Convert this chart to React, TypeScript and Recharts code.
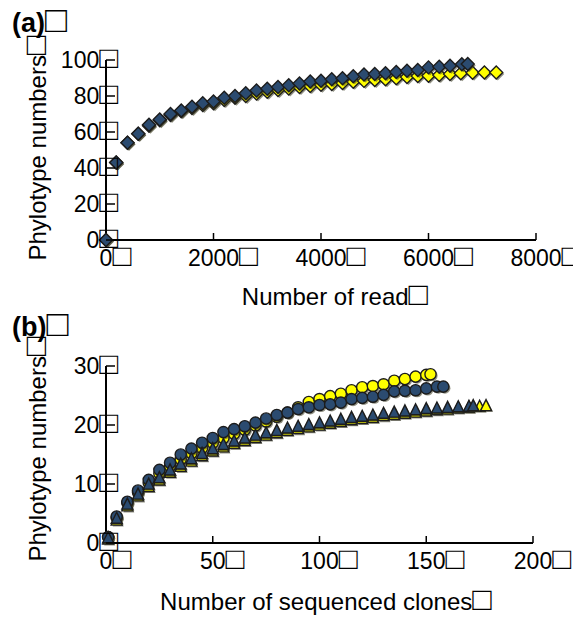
import React from 'react';
import { ScatterChart, Scatter, XAxis, YAxis } from 'recharts';

const BOX = '\u25A1';
const FS = 23;
const TITLE_FS = 24;
const FONT = '"Liberation Sans", Arial, sans-serif';
const BLUE = '#2B4B70';
const YELLOW = '#FFFF00';

// panel (a) - rarefaction by reads
const readsYellow = [0, 190, 400, 600, 800, 1000, 1200, 1400, 1600, 1800, 2000, 2200, 2400, 2600, 2800, 3000, 3200, 3400, 3600, 3800, 4000, 4200, 4400, 4600, 4800, 5000, 5200, 5400, 5600, 5800, 6000, 6200, 6400, 6600, 6820, 7040, 7260];
const phyloYellow = [0, 43, 54, 59, 63.5, 66.5, 69.5, 71.5, 73.3, 75, 76, 77.8, 79, 80, 81.4, 82.4, 83.3, 84.2, 85, 85.6, 86.2, 86.7, 87.2, 87.9, 88.4, 88.9, 89.3, 89.8, 90.6, 91.1, 91.3, 91.7, 92.2, 92.6, 92.9, 93, 93.1];
const readsBlue = [0, 190, 400, 600, 800, 1000, 1200, 1400, 1600, 1800, 2000, 2200, 2400, 2600, 2800, 3000, 3200, 3400, 3600, 3800, 4000, 4200, 4400, 4600, 4800, 5000, 5200, 5400, 5600, 5800, 6000, 6200, 6400, 6620, 6730];
const phyloBlue = [0, 43, 54, 59, 64, 67, 70, 72, 74, 76, 77, 79, 80, 81.5, 83, 84, 85, 86, 87, 88, 88.5, 89.3, 89.8, 91, 92, 92.2, 92.6, 93.3, 94, 94.4, 95.9, 96.3, 96.8, 97.6, 97.8];
const aTicksX = [0, 2000, 4000, 6000, 8000];
const aTicksY = [0, 20, 40, 60, 80, 100];

// panel (b) - rarefaction by clones
const clonesCircYellow = [1, 5, 10, 15, 20, 25, 30, 35, 40, 45, 50, 55, 60, 65, 70, 75, 80, 85, 90, 95, 100, 105, 110, 115, 120, 125, 130, 135, 140, 145, 150, 152];
const richCircYellow = [1, 4.3, 6.8, 8.6, 10.2, 11.8, 13, 14.2, 15.2, 16.1, 17, 17.8, 18.5, 19.2, 19.9, 20.6, 21.4, 22.1, 23, 23.9, 24.4, 24.9, 25.3, 25.9, 26.4, 26.6, 26.9, 27.5, 27.8, 28.2, 28.5, 28.6];
const clonesCircBlue = [1, 5, 10, 15, 20, 25, 30, 35, 40, 45, 50, 55, 60, 65, 70, 75, 80, 85, 90, 95, 100, 105, 110, 115, 120, 125, 130, 135, 140, 145, 150, 155, 158];
const richCircBlue = [1, 4.5, 7, 8.9, 10.7, 12.4, 13.6, 15, 16, 17, 17.8, 18.8, 19.3, 19.8, 20.4, 21.1, 21.7, 22.1, 22.7, 23, 23.4, 23.5, 23.8, 24.4, 24.6, 24.8, 25.1, 25.7, 25.8, 25.9, 26.2, 26.5, 26.5];
const clonesTriYellow = [1, 5, 10, 15, 20, 25, 30, 35, 40, 45, 50, 55, 60, 65, 70, 75, 80, 85, 90, 95, 100, 105, 110, 115, 120, 125, 130, 135, 140, 145, 150, 155, 160, 165, 170, 175, 178];
const richTriYellow = [0.6, 3.8, 6.2, 7.9, 9.5, 10.6, 11.9, 12.9, 13.8, 14.7, 15.5, 16.2, 16.8, 17.3, 17.8, 18.2, 18.6, 19, 19.3, 19.6, 19.9, 20.2, 20.5, 20.8, 21, 21.2, 21.5, 21.7, 21.9, 22.1, 22.3, 22.5, 22.6, 22.8, 22.9, 23.1, 23.2];
const clonesTriBlue = [1, 5, 10, 15, 20, 25, 30, 35, 40, 45, 50, 55, 60, 65, 70, 75, 80, 85, 90, 95, 100, 105, 110, 115, 120, 125, 130, 135, 140, 145, 150, 155, 160, 165, 170, 172];
const richTriBlue = [0.8, 4.1, 6.5, 8.2, 9.9, 11, 12.3, 13.3, 14.2, 15.1, 15.9, 16.6, 17.2, 17.7, 18.2, 18.6, 19, 19.4, 19.7, 20, 20.3, 20.6, 20.9, 21.2, 21.4, 21.6, 21.9, 22.1, 22.3, 22.5, 22.7, 22.8, 22.9, 23, 23.1, 23.2];
const bTicksX = [0, 50, 100, 150, 200];
const bTicksY = [0, 10, 20, 30];

const pts = (xs: number[], ys: number[]) => xs.map((x, i) => ({ x, y: ys[i] }));

// the missing-glyph box, drawn a bit bigger than the font's own square
const Box = ({ bold }: { bold?: boolean }) => (
  <tspan fontSize="1.35em" fontWeight={bold ? 'bold' : 'normal'}>{BOX}</tspan>
);

// marker shapes with a small dark drop shadow
function marker(kind: 'diamond' | 'circle' | 'triangle', fill: string) {
  return (props: any) => {
    const { cx, cy } = props;
    if (cx == null || cy == null) return null;
    let el: (extra: any) => React.ReactElement;
    if (kind === 'circle') {
      el = (extra) => <circle cx={cx} cy={cy} r={5.6} {...extra} />;
    } else {
      let d: string;
      if (kind === 'diamond') {
        const r = 6.5;
        d = `M${cx},${cy - r}L${cx + r},${cy}L${cx},${cy + r}L${cx - r},${cy}Z`;
      } else {
        d = `M${cx},${cy - 6.5}L${cx + 5.5},${cy + 4.5}L${cx - 5.5},${cy + 4.5}Z`;
      }
      el = (extra) => <path d={d} {...extra} />;
    }
    return (
      <g>
        {el({ fill: '#3a3a20', opacity: 0.55, transform: 'translate(1.5,1.5)' })}
        {el({ fill, stroke: '#1c1c1c', strokeWidth: 1.4 })}
      </g>
    );
  };
}

function XTick({ x, y, payload }: any) {
  const s = String(payload.value);
  const half = (s.length * 0.556 * FS) / 2;
  return (
    <g>
      {payload.value !== 0 && <line x1={x} y1={y} x2={x} y2={y - 7} stroke="#000" strokeWidth={1.5} />}
      <text x={x - half} y={y + 26} fontSize={FS} fontFamily={FONT} fill="#000">
        {s}
        <Box />
      </text>
    </g>
  );
}

function YTick({ x, y, payload }: any) {
  return (
    <g>
      <line x1={x} y1={y} x2={x + 9} y2={y} stroke="#000" strokeWidth={1.5} />
      <text x={x + 12} y={y} dy="0.36em" textAnchor="end" fontSize={FS} fontFamily={FONT} fill="#000">
        {payload.value}
        <Box />
      </text>
    </g>
  );
}

const axisCommon = {
  type: 'number' as const,
  tickSize: 0,
  tickMargin: 0,
  tickLine: false,
  interval: 0 as const,
  axisLine: { stroke: '#000', strokeWidth: 2 },
};

export default function App() {
  return (
    <div style={{ position: 'absolute', left: 0, top: 0, width: 573, height: 617, background: '#fff', fontFamily: FONT }}>
      <div style={{ position: 'absolute', left: 0, top: 0 }}>
        <ScatterChart width={573} height={310} margin={{ top: 60, right: 37, bottom: 69, left: 105 }}>
          <XAxis {...axisCommon} dataKey="x" domain={[0, 8000]} ticks={aTicksX} height={1} tick={<XTick />} />
          <YAxis {...axisCommon} dataKey="y" domain={[0, 100]} ticks={aTicksY} width={1} tick={<YTick />} />
          <Scatter data={pts(readsYellow, phyloYellow)} shape={marker('diamond', YELLOW)} isAnimationActive={false} />
          <Scatter data={pts(readsBlue, phyloBlue)} shape={marker('diamond', BLUE)} isAnimationActive={false} />
          <text x={12} y={32} fontSize={27} fontWeight="bold" fontFamily={FONT}>(a)<Box bold /></text>
          <text x={335} y={305} textAnchor="middle" fontSize={TITLE_FS} fontFamily={FONT}>Number of read<Box /></text>
          <text transform="translate(46,148) rotate(-90)" textAnchor="middle" fontSize={TITLE_FS} fontFamily={FONT}>Phylotype numbers<Box /></text>
        </ScatterChart>
      </div>
      <div style={{ position: 'absolute', left: 0, top: 310 }}>
        <ScatterChart width={573} height={307} margin={{ top: 56, right: 40, bottom: 73, left: 105 }}>
          <XAxis {...axisCommon} dataKey="x" domain={[0, 200]} ticks={bTicksX} height={1} tick={<XTick />} />
          <YAxis {...axisCommon} dataKey="y" domain={[0, 30]} ticks={bTicksY} width={1} tick={<YTick />} />
          <Scatter data={pts(clonesCircYellow, richCircYellow)} shape={marker('circle', YELLOW)} isAnimationActive={false} />
          <Scatter data={pts(clonesCircBlue, richCircBlue)} shape={marker('circle', BLUE)} isAnimationActive={false} />
          <Scatter data={pts(clonesTriYellow, richTriYellow)} shape={marker('triangle', YELLOW)} isAnimationActive={false} />
          <Scatter data={pts(clonesTriBlue, richTriBlue)} shape={marker('triangle', BLUE)} isAnimationActive={false} />
          <text x={12} y={26} fontSize={27} fontWeight="bold" fontFamily={FONT}>(b)<Box bold /></text>
          <text x={326} y={300} textAnchor="middle" fontSize={TITLE_FS} fontFamily={FONT}>Number of sequenced clones<Box /></text>
          <text transform="translate(46,139) rotate(-90)" textAnchor="middle" fontSize={TITLE_FS} fontFamily={FONT}>Phylotype numbers<Box /></text>
        </ScatterChart>
      </div>
    </div>
  );
}
